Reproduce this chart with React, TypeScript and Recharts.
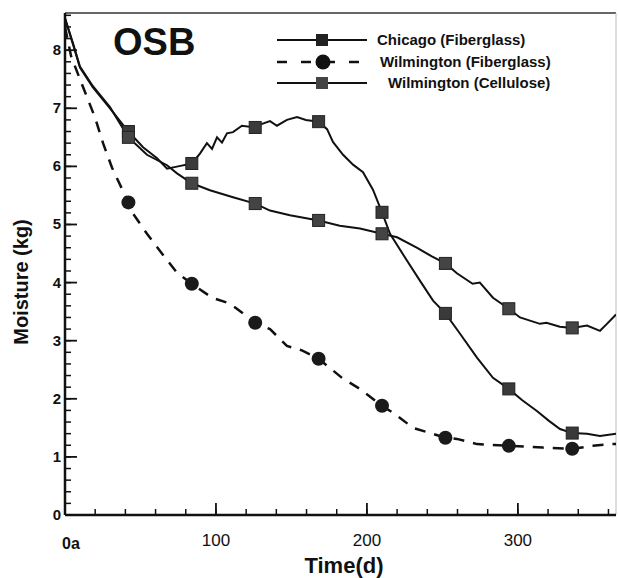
import React from 'react';
import { ComposedChart, Line, Scatter, XAxis, YAxis, ReferenceLine, Legend } from 'recharts';

// marker days (every 6 weeks) and marker values per series
const markDays = [42, 84, 126, 168, 210, 252, 294, 336];
const chicagoMarks = [6.6, 6.05, 6.67, 6.77, 5.21, 3.47, 2.17, 1.41];
const wilmFiberMarks = [5.38, 3.98, 3.31, 2.69, 1.88, 1.33, 1.19, 1.14];
const wilmCelluloseMarks = [6.5, 5.71, 5.36, 5.07, 4.84, 4.33, 3.55, 3.22];

// daily curves: [day, moisture kg]
const chicagoCurve: [number, number][] = [
  [0, 8.55], [5.3, 8.1], [9.9, 7.7], [18.5, 7.36], [29.8, 7.0], [51.7, 6.33], [61, 6.14],
  [67.6, 5.96], [74.9, 6.0], [89.4, 6.22], [94, 6.4], [97.4, 6.3], [100.7, 6.5], [104, 6.41],
  [107.3, 6.57], [111.3, 6.59], [117.2, 6.7], [129.2, 6.72], [135.8, 6.78], [140.4, 6.7],
  [147, 6.8], [153.7, 6.85], [159.6, 6.8], [173.6, 6.64], [177.5, 6.42], [184.2, 6.2],
  [190.8, 6.03], [197.4, 5.9], [204, 5.6], [215.3, 4.84], [226.5, 4.38], [235.2, 4.03],
  [243.8, 3.69], [261.7, 3.12], [272.9, 2.71], [283.5, 2.36], [302.7, 1.98], [312.6, 1.79],
  [320.6, 1.62], [327.9, 1.48], [345.8, 1.4], [354.4, 1.36], [365, 1.4],
];
const wilmFiberCurve: [number, number][] = [
  [0, 8.4], [4, 7.9], [9.9, 7.5], [14.6, 7.19], [19.9, 6.84], [25.2, 6.4], [31.1, 5.98],
  [45, 5.19], [54.3, 4.84], [64.2, 4.5], [74.2, 4.17], [97.4, 3.74], [109.3, 3.64],
  [135.8, 3.2], [147, 2.91], [157.3, 2.83], [183.5, 2.36], [195.4, 2.17], [218.5, 1.74],
  [230.5, 1.5], [259.6, 1.31], [272.9, 1.22], [316.6, 1.16], [349.7, 1.19], [362, 1.22], [365, 1.22],
];
const wilmCelluloseCurve: [number, number][] = [
  [0, 8.55], [5.3, 8.12], [9.9, 7.72], [18.5, 7.38], [29.8, 7.02], [54.3, 6.2], [67.6, 6.02],
  [74.2, 5.88], [96, 5.59], [111.3, 5.47], [135.8, 5.24], [149, 5.16], [182, 4.98],
  [195.4, 4.93], [220, 4.78], [233, 4.6], [243, 4.45], [259.6, 4.16], [270, 3.98], [274.8, 4.0],
  [283.5, 3.74], [301.4, 3.4], [314.6, 3.29], [319, 3.31], [327.8, 3.24], [345.8, 3.26],
  [354.4, 3.17], [359, 3.29], [365, 3.45],
];

const xMajorTicks = [0, 100, 200, 300];
const xTickLabels: Record<number, string> = { 0: '0a', 100: '100', 200: '200', 300: '300' };
const yMajorTicks = [0, 1, 2, 3, 4, 5, 6, 7, 8];

const X_MAX = 365;
const Y_MAX = 8.64;
const PLOT_LEFT = 66;
const PLOT_BOTTOM = 514;
const FONT = '"Liberation Sans", Arial, sans-serif';

// minor ticks every 20 days / 0.2 kg
const xTicks = Array.from({ length: 19 }, (_, i) => i * 20);
const yTicks = Array.from({ length: 44 }, (_, i) => Math.round(i * 2) / 10);

const toMarks = (vals: number[]) => markDays.map((d, i) => ({ day: d, v: vals[i] }));
const toLine = (curve: [number, number][], vals: number[]) =>
  [...curve.map(([day, v]) => ({ day, v })), ...toMarks(vals)].sort((a, b) => a.day - b.day);

// axes are mirrored so tick lines point into the plot; labels placed outside by hand
const XTick = (props: any) => {
  const { payload } = props;
  const v = payload.value;
  const x = payload.coordinate;
  const major = xMajorTicks.includes(v);
  return (
    <g>
      {major && <path d={`M${x},${PLOT_BOTTOM}V${PLOT_BOTTOM - 11}`} stroke="#111" strokeWidth={1.8} />}
      {v === 0 ? (
        <text x={x - 3} y={549} fontFamily={FONT} fontWeight="bold" fontSize={16} fill="#111">{xTickLabels[0]}</text>
      ) : major ? (
        <text x={x} y={546} textAnchor="middle" fontFamily={FONT} fontSize={17} fill="#111">{xTickLabels[v]}</text>
      ) : null}
    </g>
  );
};

const YTick = (props: any) => {
  const { payload } = props;
  const v = payload.value;
  const y = payload.coordinate;
  const major = yMajorTicks.includes(v);
  return (
    <g>
      {major && <path d={`M${PLOT_LEFT},${y}H${PLOT_LEFT + 11}`} stroke="#111" strokeWidth={1.8} />}
      {major && (
        <text x={61} y={y} dy={5} textAnchor="end" fontFamily={FONT} fontWeight="bold" fontSize={15} fill="#111">{v}</text>
      )}
    </g>
  );
};

const SquareMark = (props: any) => (
  <rect x={props.cx - 6} y={props.cy - 6} width={12} height={12} fill={props.fill} stroke="#222" strokeWidth={1} />
);
const CircleMark = (props: any) => <circle cx={props.cx} cy={props.cy} r={7} fill="#1a1a1a" />;

const LegendBox = () => (
  <svg width={510} height={80} style={{ display: 'block' }}>
    <text x={13} y={35} fontFamily={FONT} fontWeight="bold" fontSize={38} fill="#111">OSB</text>
    <g fontFamily={FONT} fontWeight="bold" fontSize={15} fill="#111">
      <line x1={177} x2={267} y1={20} y2={20} stroke="#111" strokeWidth={2} />
      <rect x={216} y={14} width={12} height={12} fill="#222" />
      <text x={277} y={25}>Chicago (Fiberglass)</text>
      <line x1={177} x2={267} y1={42} y2={42} stroke="#111" strokeWidth={2.5} strokeDasharray="10 14" />
      <circle cx={223} cy={42} r={7.5} fill="#111" />
      <text x={280} y={47}>Wilmington (Fiberglass)</text>
      <line x1={177} x2={267} y1={63} y2={63} stroke="#111" strokeWidth={2} />
      <rect x={216} y={57} width={12} height={12} fill="#444" />
      <text x={288} y={68}>Wilmington (Cellulose)</text>
    </g>
  </svg>
);

export default function App() {
  return (
    <div style={{ position: 'absolute', left: 0, top: 0, background: '#fff' }}>
      <ComposedChart width={618} height={578} margin={{ top: 13, right: 2, bottom: 63, left: PLOT_LEFT - 1 }}>
        <XAxis
          dataKey="day"
          type="number"
          domain={[0, X_MAX]}
          ticks={xTicks}
          interval={0}
          height={1}
          mirror
          tickSize={6}
          tickLine={{ stroke: '#111', strokeWidth: 1.5 }}
          tick={<XTick />}
          axisLine={{ stroke: '#111', strokeWidth: 2.5 }}
          allowDataOverflow
          label={{
            content: () => (
              <text x={344} y={573} textAnchor="middle" fontFamily={FONT} fontWeight="bold" fontSize={22} fill="#111">
                Time(d)
              </text>
            ),
          }}
        />
        <YAxis
          dataKey="v"
          type="number"
          domain={[0, Y_MAX]}
          ticks={yTicks}
          interval={0}
          width={1}
          mirror
          tickSize={6}
          tickLine={{ stroke: '#111', strokeWidth: 1.5 }}
          tick={<YTick />}
          axisLine={{ stroke: '#111', strokeWidth: 2.5 }}
          allowDataOverflow
          label={{
            content: () => (
              <text
                x={28}
                y={282}
                transform="rotate(-90 28 282)"
                textAnchor="middle"
                fontFamily={FONT}
                fontWeight="bold"
                fontSize={20}
                fill="#111"
              >
                Moisture (kg)
              </text>
            ),
          }}
        />
        <ReferenceLine y={Y_MAX} stroke="#333" strokeWidth={1.5} />
        <ReferenceLine x={X_MAX} stroke="#bbb" strokeWidth={1} />
        <Line data={toLine(chicagoCurve, chicagoMarks)} dataKey="v" type="linear" stroke="#111" strokeWidth={2} dot={false} isAnimationActive={false} />
        <Line data={toLine(wilmCelluloseCurve, wilmCelluloseMarks)} dataKey="v" type="linear" stroke="#111" strokeWidth={2} dot={false} isAnimationActive={false} />
        <Line data={toLine(wilmFiberCurve, wilmFiberMarks)} dataKey="v" type="linear" stroke="#111" strokeWidth={2.5} strokeDasharray="11 9" dot={false} isAnimationActive={false} />
        <Scatter data={toMarks(chicagoMarks)} dataKey="v" fill="#3a3a3a" shape={<SquareMark />} isAnimationActive={false} />
        <Scatter data={toMarks(wilmCelluloseMarks)} dataKey="v" fill="#444" shape={<SquareMark />} isAnimationActive={false} />
        <Scatter data={toMarks(wilmFiberMarks)} dataKey="v" shape={<CircleMark />} isAnimationActive={false} />
        <Legend
          layout="vertical"
          align="center"
          verticalAlign="middle"
          content={<LegendBox />}
          wrapperStyle={{ left: 100, top: 20, width: 510, height: 80 }}
        />
      </ComposedChart>
    </div>
  );
}
